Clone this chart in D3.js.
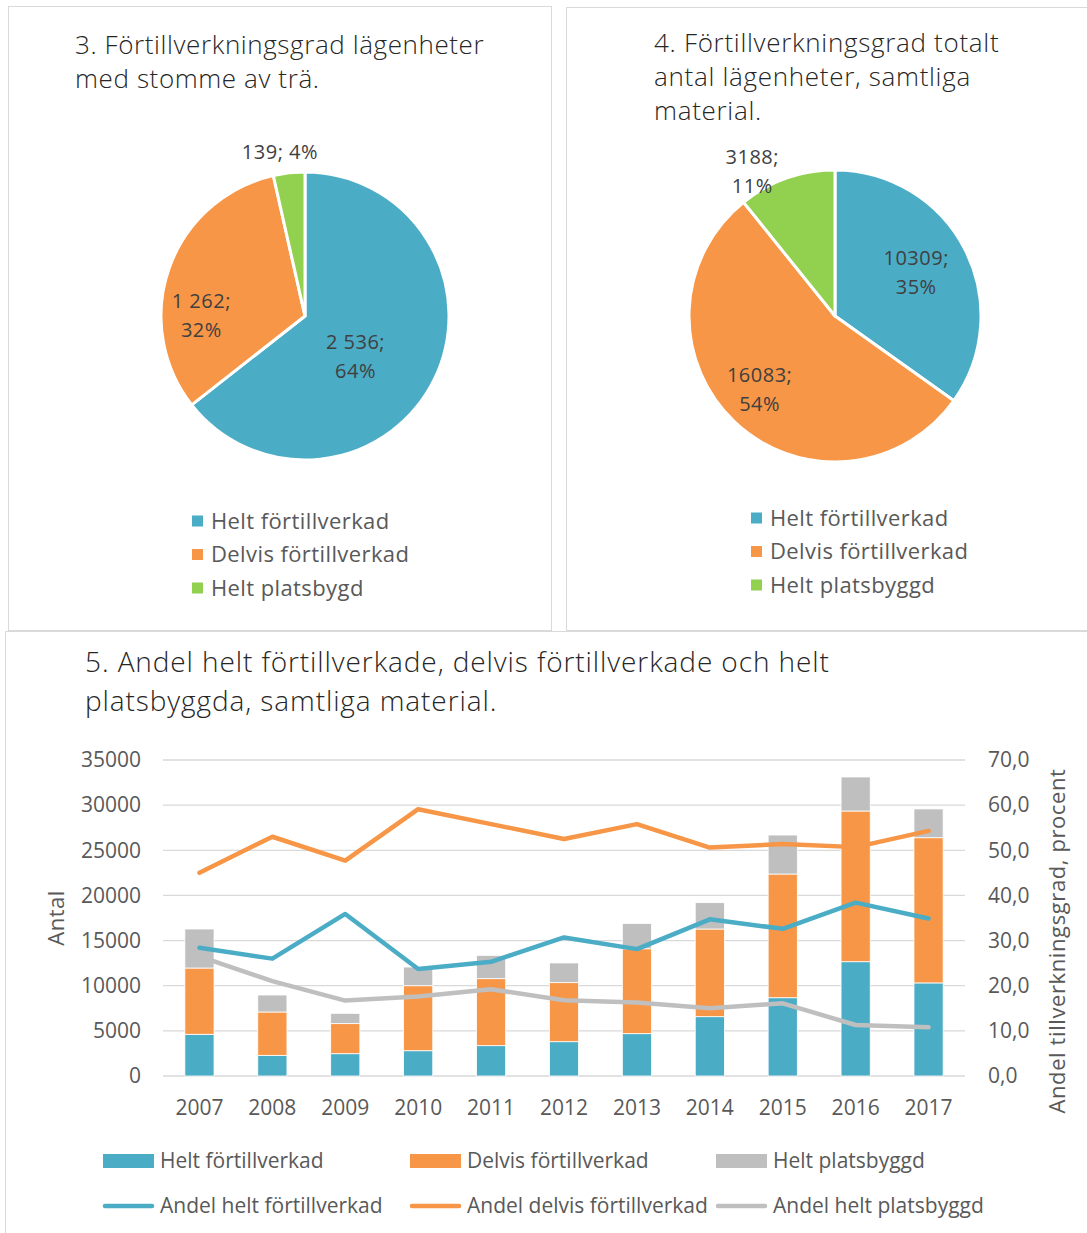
<!DOCTYPE html>
<html lang="sv">
<head>
<meta charset="utf-8">
<title>Förtillverkningsgrad</title>
<script src="https://cdn.jsdelivr.net/npm/d3@7"></script>
<style>
  body { margin: 0; background: #fff; }
  svg { display: block; font-family: "Open Sans", sans-serif; }
</style>
</head>
<body>
<script>
// data
var pieCats = ["Helt förtillverkad", "Delvis förtillverkad", "Helt platsbygd"];
var pieCats2 = ["Helt förtillverkad", "Delvis förtillverkad", "Helt platsbyggd"];
var pieTra = [2536, 1262, 139];
var pieTraLabels = [["2 536;", "64%"], ["1 262;", "32%"], ["139; 4%"]];
var pieTotal = [10309, 16083, 3188];
var pieTotalLabels = [["10309;", "35%"], ["16083;", "54%"], ["3188;", "11%"]];

var years = ["2007","2008","2009","2010","2011","2012","2013","2014","2015","2016","2017"];
var helt    = [4620, 2290, 2470, 2800, 3360, 3800, 4690, 6570, 8670, 12660, 10309];
var delvis  = [7340, 4800, 3330, 7200, 7420, 6540, 9400, 9710, 13700, 16690, 16083];
var plats   = [4320, 1880, 1140, 2070, 2580, 2180, 2800, 2920, 4320, 3770, 3188];
var andelHelt   = [28.4, 26.0, 35.9, 23.7, 25.3, 30.7, 28.1, 34.7, 32.6, 38.4, 34.9];
var andelDelvis = [45.0, 53.0, 47.7, 59.1, 55.8, 52.5, 55.8, 50.6, 51.4, 50.7, 54.3];
var andelPlats  = [26.5, 21.0, 16.7, 17.6, 19.2, 16.8, 16.3, 15.0, 16.1, 11.3, 10.8];
var leftTicks = [0, 5000, 10000, 15000, 20000, 25000, 30000, 35000];
var rightTicks = [0, 10, 20, 30, 40, 50, 60, 70];

var colors = ["#4BACC6", "#F79646", "#92D050"];
var barColors = ["#4BACC6", "#F79646", "#BFBFBF"];

var svg = d3.select("body").append("svg")
  .attr("width", 1087).attr("height", 1233);

// panel frames
svg.append("rect").attr("x", 8.5).attr("y", 6.5).attr("width", 543).attr("height", 624)
  .attr("fill", "none").attr("stroke", "#d9d9d9");
svg.append("rect").attr("x", 566.5).attr("y", 7.5).attr("width", 530).attr("height", 623)
  .attr("fill", "none").attr("stroke", "#d9d9d9");
svg.append("rect").attr("x", 5.5).attr("y", 631.5).attr("width", 1090).attr("height", 610)
  .attr("fill", "#fff").attr("stroke", "#d9d9d9");

function title(x, y, lines, size, lh, ls) {
  var t = svg.append("text").attr("x", x).attr("y", y)
    .attr("font-size", size).attr("font-weight", 300).attr("fill", "#262626")
    .attr("letter-spacing", ls);
  lines.forEach(function(l, i) {
    t.append("tspan").attr("x", x).attr("dy", i ? lh : 0).text(l);
  });
}

function drawPie(cx, cy, r, values, labels, place, cats, legX, legY) {
  var g = svg.append("g").attr("transform", "translate(" + cx + "," + cy + ")");
  var arcs = d3.pie().sort(null)(values);
  var arc = d3.arc().innerRadius(0).outerRadius(r);
  g.selectAll("path").data(arcs).enter().append("path")
    .attr("d", arc)
    .attr("fill", function(d, i) { return colors[i]; })
    .attr("stroke", "#fff").attr("stroke-width", 3).attr("stroke-linejoin", "round");

  labels.forEach(function(lab, i) {
    var a = place[i][0] * Math.PI / 180, rr = place[i][1] * r;
    var lx = Math.sin(a) * rr, ly = -Math.cos(a) * rr;
    var t = g.append("text").attr("text-anchor", "middle")
      .attr("font-size", 20).attr("letter-spacing", 0.5).attr("fill", "#404040");
    lab.forEach(function(s, j) {
      t.append("tspan").attr("x", lx)
        .attr("y", ly + (j - (lab.length - 1) / 2) * 29)
        .attr("dy", "0.35em").text(s);
    });
  });

  var leg = svg.append("g").selectAll("g").data(cats).enter().append("g")
    .attr("transform", function(d, i) { return "translate(" + legX + "," + (legY + i * 33.5) + ")"; });
  leg.append("rect").attr("x", 0).attr("y", -5.5).attr("width", 11).attr("height", 11)
    .attr("fill", function(d, i) { return colors[i]; });
  leg.append("text").attr("x", 19).attr("dy", "0.35em")
    .attr("font-size", 22).attr("letter-spacing", 0.4).attr("fill", "#595959").text(function(d) { return d; });
}

title(75, 54, ["3. Förtillverkningsgrad lägenheter", "med stomme av trä."], 26, 34, 0.6);
title(654, 52, ["4. Förtillverkningsgrad totalt", "antal lägenheter, samtliga", "material."], 26, 34, 0.7);

drawPie(305, 316, 144, pieTra, pieTraLabels,
  [[128.8, 0.45], [270.5, 0.72], [351.3, 1.15]], pieCats, 192, 521);
drawPie(835, 316, 146, pieTotal, pieTotalLabels,
  [[62, 0.63], [225.8, 0.72], [330.2, 1.14]], pieCats2, 751, 518);

// combo chart
title(85, 672, ["5. Andel helt förtillverkade, delvis förtillverkade och helt", "platsbyggda, samtliga material."], 28, 39, 0.9);

var x = d3.scaleBand().domain(years).range([163, 965]).paddingInner(0.6).paddingOuter(0.3);
var yL = d3.scaleLinear().domain([0, 35000]).range([1076, 760]);
var yR = d3.scaleLinear().domain([0, 70]).range([1076, 760]);

svg.append("g").selectAll("line").data(leftTicks).enter().append("line")
  .attr("x1", 163).attr("x2", 965)
  .attr("y1", function(d) { return yL(d); }).attr("y2", function(d) { return yL(d); })
  .attr("stroke", "#d9d9d9").attr("stroke-width", 1.3);

var axL = svg.append("g").attr("transform", "translate(163,0)")
  .call(d3.axisLeft(yL).tickValues(leftTicks).tickSize(0).tickPadding(22).tickFormat(d3.format("d")));
var axR = svg.append("g").attr("transform", "translate(965,0)")
  .call(d3.axisRight(yR).tickValues(rightTicks).tickSize(0).tickPadding(23)
    .tickFormat(function(d) { return d3.format(".1f")(d).replace(".", ","); }));
var axB = svg.append("g").attr("transform", "translate(0,1076)")
  .call(d3.axisBottom(x).tickSize(0).tickPadding(24));
[axL, axR, axB].forEach(function(a) {
  a.select(".domain").remove();
  a.selectAll("text").attr("font-size", 21).attr("fill", "#595959")
    .attr("font-family", "Open Sans, sans-serif");
});

svg.append("text").attr("transform", "translate(64,918) rotate(-90)")
  .attr("text-anchor", "middle").attr("font-size", 22).attr("letter-spacing", 0.5)
  .attr("fill", "#595959").text("Antal");
svg.append("text").attr("transform", "translate(1065,941) rotate(-90)")
  .attr("text-anchor", "middle").attr("font-size", 22).attr("letter-spacing", 0.6)
  .attr("fill", "#595959").text("Andel tillverkningsgrad, procent");

var table = years.map(function(y, i) { return { year: y, helt: helt[i], delvis: delvis[i], plats: plats[i] }; });
var stack = d3.stack().keys(["helt", "delvis", "plats"])(table);
svg.append("g").selectAll("g").data(stack).enter().append("g")
    .attr("fill", function(d, i) { return barColors[i]; })
  .selectAll("rect").data(function(d) { return d; }).enter().append("rect")
    .attr("x", function(d) { return x(d.data.year); })
    .attr("width", x.bandwidth())
    .attr("y", function(d) { return yL(d[1]); })
    .attr("height", function(d) { return yL(d[0]) - yL(d[1]); })
    .attr("stroke", "#fff").attr("stroke-width", 0.8);

var line = d3.line()
  .x(function(d, i) { return x(years[i]) + x.bandwidth() / 2; })
  .y(function(d) { return yR(d); });
[andelHelt, andelDelvis, andelPlats].forEach(function(s, i) {
  svg.append("path").datum(s).attr("d", line).attr("fill", "none")
    .attr("stroke", barColors[i]).attr("stroke-width", 4.5)
    .attr("stroke-linejoin", "round").attr("stroke-linecap", "round");
});

// legend
var legItems = [
  { t: "Helt förtillverkad", c: barColors[0], bar: true },
  { t: "Delvis förtillverkad", c: barColors[1], bar: true },
  { t: "Helt platsbyggd", c: barColors[2], bar: true },
  { t: "Andel helt förtillverkad", c: barColors[0], bar: false },
  { t: "Andel delvis förtillverkad", c: barColors[1], bar: false },
  { t: "Andel helt platsbyggd", c: barColors[2], bar: false }
];
var legX = [103, 410, 716];
var lg = svg.append("g").selectAll("g").data(legItems).enter().append("g")
  .attr("transform", function(d, i) { return "translate(" + legX[i % 3] + "," + (i < 3 ? 1161 : 1206) + ")"; });
lg.filter(function(d) { return d.bar; }).append("rect")
  .attr("x", 0).attr("y", -7).attr("width", 51).attr("height", 14).attr("fill", function(d) { return d.c; });
lg.filter(function(d) { return !d.bar; }).append("line")
  .attr("x1", 2).attr("x2", 49).attr("stroke", function(d) { return d.c; })
  .attr("stroke-width", 4.5).attr("stroke-linecap", "round");
lg.append("text").attr("x", 57).attr("dy", "0.35em").attr("font-size", 21)
  .attr("fill", "#595959").text(function(d) { return d.t; });
</script>
</body>
</html>
